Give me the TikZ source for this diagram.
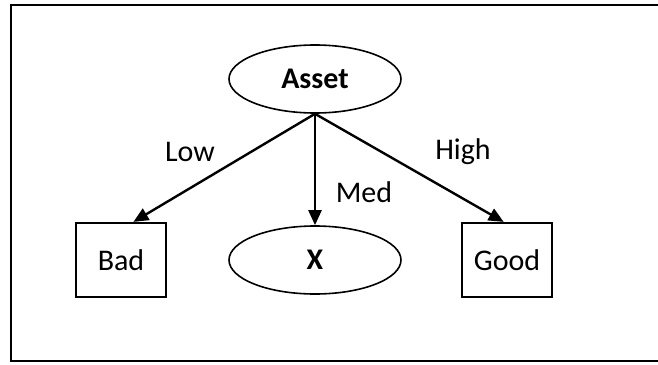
\documentclass[tikz,border=0pt]{standalone}
\usepackage{fontspec}
\setmainfont{Carlito}
\usetikzlibrary{shapes.geometric,arrows.meta}

\newcommand{\diagfont}{\fontsize{30}{36}\selectfont}

\tikzset{
  valnode/.style={ellipse,draw,line width=1.6pt,inner sep=0pt,
    minimum width=172pt,minimum height=68pt,font=\diagfont\bfseries},
  leafbox/.style={rectangle,draw,line width=2.2pt,inner sep=0pt,
    minimum width=90pt,minimum height=74pt,font=\diagfont},
  branch/.style={line width=2.4pt,-{Triangle[length=15pt,width=13pt]}},
  edgelbl/.style={anchor=base,inner sep=0pt,font=\diagfont}
}

\begin{document}
\begin{tikzpicture}[x=1pt,y=-1pt]
      \useasboundingbox (0,0) rectangle (658,364);
      \draw[line width=2.6pt] (11,5) rectangle (700,361);

      %%%%%%%%%%%%%%%%%%%%%%%%%%%%%%%%%%%%%%%%%%%%%%%%%%%%%%%%%%%%%%%%%%%%%%%%%%%
      %%%%  Nodes
      \node[valnode] (asset) at (315,79) {Asset};
      \node[valnode] (x) at (315,260) {X};
      \node[leafbox] (bad) at (121,260) {Bad};
      \node[leafbox] (good) at (507,260) {Good};

      %%%%%%%%%%%%%%%%%%%%%%%%%%%%%%%%%%%%%%%%%%%%%%%%%%%%%%%%%%%%%%%%%%%%%%%%%%%
      %%%%  Branches
      \draw[branch] (asset.south) -- (bad.72);
      \draw[branch] (asset.south) -- (x.north);
      \draw[branch] (asset.south) -- (good.95);

      \node[edgelbl] (low) at (190,161) {Low};
      \node[edgelbl] (med) at (364,202) {Med};
      \node[edgelbl] (high) at (463,159) {High};
    \end{tikzpicture}
\end{document}
